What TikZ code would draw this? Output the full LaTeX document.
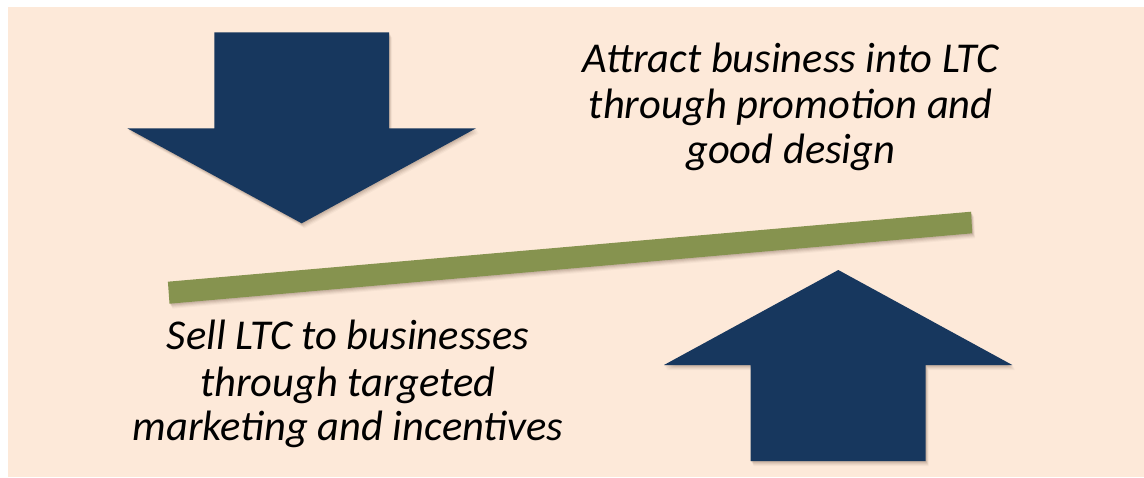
\documentclass[tikz,border=0pt]{standalone}
\usepackage{fontspec}
\setmainfont{Carlito}
\definecolor{peach}{HTML}{FDE9D9}
\definecolor{navy}{HTML}{17375E}
\definecolor{olivebar}{HTML}{86934F}
\definecolor{shadowtone}{HTML}{5A4030}

% Shapes, drawn in pixel-like units (y grows downward)
\newcommand\downarrowshape[1]{%
  \fill[#1] (214.3,32.3) -- (389,32.3) -- (389,128.3) -- (476,128.3)
    -- (301.7,223.3) -- (127.3,128.3) -- (214.3,128.3) -- cycle;}
\newcommand\uparrowshape[1]{%
  \fill[#1] (750.7,461) -- (925.7,461) -- (925.7,365) -- (1012.3,365)
    -- (838.3,270) -- (664,365) -- (750.7,365) -- cycle;}
\newcommand\beamshape[1]{%
  \fill[#1] (167.9,281.7) -- (971.1,211.7) -- (972.2,233.3) -- (169.5,303.7) -- cycle;}
\newcommand\softshadow[1]{%
  \foreach \dx/\op in {1/0.10,2/0.09,3/0.08,4/0.06,5/0.04}{%
    \begin{scope}[shift={(\dx*0.6,\dx)}]#1{shadowtone,opacity=\op}\end{scope}}}

\tikzset{
  caption/.style={font=\fontsize{42.5}{46}\selectfont\itshape, text=black,
    anchor=base, inner sep=0pt}
}

\begin{document}
\begin{tikzpicture}[x=1pt,y=-1pt]
\useasboundingbox (0,0) rectangle (1144,477);
\fill[peach] (8,7) rectangle (1144,477);

% drop shadows
\softshadow{\downarrowshape}
\softshadow{\uparrowshape}
\softshadow{\beamshape}

% shapes
\downarrowshape{navy}
\uparrowshape{navy}
\beamshape{olivebar}

% captions
\node[caption] (top1) at (790.8,72.7) {Attract business into LTC};
\node[caption] (top2) at (790.8,118.3) {through promotion and};
\node[caption] (top3) at (790.8,163.3) {good design};

\node[caption] (bot1) at (348,349.3) {Sell LTC to businesses};
\node[caption] (bot2) at (348,396) {through targeted};
\node[caption] (bot3) at (348,440) {marketing and incentives};
\end{tikzpicture}
\end{document}
